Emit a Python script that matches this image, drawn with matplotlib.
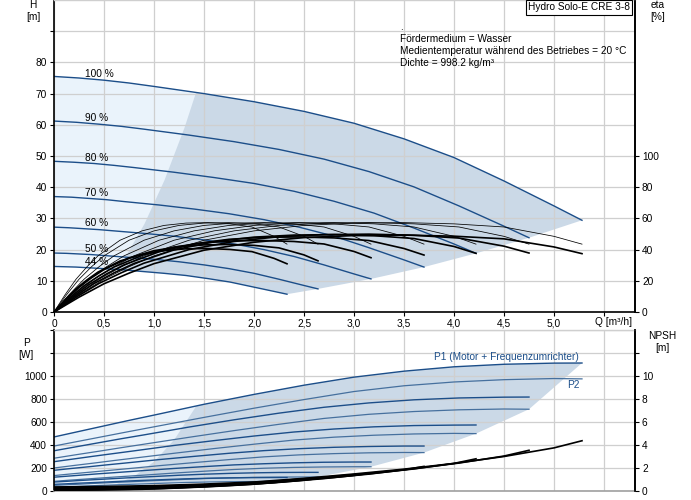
import numpy as np
import matplotlib
matplotlib.use('Agg')
import matplotlib.pyplot as plt
from matplotlib.patches import Polygon

plt.rcParams['font.family'] = ['Liberation Sans', 'DejaVu Sans']
FS = 7.3
plt.rcParams['font.size'] = FS

# ---------------- data ----------------
speed_labels = ["100 %", "90 %", "80 %", "70 %", "60 %", "50 %", "44 %"]

# flow points for each speed curve [m3/h]
q_pts = [
    [0, 0.25, 0.5, 0.75, 1.0, 1.5, 2.0, 2.5, 3.0, 3.5, 4.0, 4.5, 5.0, 5.28],
    [0, 0.225, 0.45, 0.675, 0.9, 1.35, 1.8, 2.25, 2.7, 3.15, 3.6, 4.05, 4.5, 4.75],
    [0, 0.2, 0.4, 0.6, 0.8, 1.2, 1.6, 2.0, 2.4, 2.8, 3.2, 3.6, 4.0, 4.22],
    [0, 0.175, 0.35, 0.525, 0.7, 1.05, 1.4, 1.75, 2.1, 2.45, 2.8, 3.15, 3.5, 3.70],
    [0, 0.15, 0.3, 0.45, 0.6, 0.9, 1.2, 1.5, 1.8, 2.1, 2.4, 2.7, 3.0, 3.17],
    [0, 0.125, 0.25, 0.375, 0.5, 0.75, 1.0, 1.25, 1.5, 1.75, 2.0, 2.25, 2.5, 2.64],
    [0, 0.11, 0.22, 0.33, 0.44, 0.66, 0.88, 1.1, 1.32, 1.54, 1.76, 1.98, 2.2, 2.33],
]

# head [m]
h_pts = [
    [75.5, 75.0, 74.3, 73.4, 72.3, 70.0, 67.4, 64.3, 60.5, 55.5, 49.5, 42.0, 34.0, 29.4],
    [61.2, 60.8, 60.2, 59.5, 58.6, 56.7, 54.6, 52.1, 49.0, 45.0, 40.1, 34.0, 27.5, 23.8],
    [48.3, 48.0, 47.6, 47.0, 46.3, 44.8, 43.1, 41.2, 38.7, 35.5, 31.7, 26.9, 21.8, 18.8],
    [37.0, 36.8, 36.4, 36.0, 35.4, 34.3, 33.0, 31.5, 29.6, 27.2, 24.3, 20.6, 16.7, 14.4],
    [27.2, 27.0, 26.7, 26.4, 26.0, 25.2, 24.3, 23.1, 21.8, 20.0, 17.8, 15.1, 12.2, 10.6],
    [18.9, 18.8, 18.6, 18.4, 18.1, 17.5, 16.9, 16.1, 15.1, 13.9, 12.4, 10.5, 8.5, 7.4],
    [14.6, 14.5, 14.4, 14.2, 14.0, 13.6, 13.0, 12.4, 11.7, 10.7, 9.6, 8.1, 6.6, 5.7],
]

# pump efficiency [%] (same along each speed curve)
eta_pump = [0, 11, 21, 29, 36, 46, 52, 55.5, 57, 57.3, 56.5, 54.5, 48.5, 43.5]

# total efficiency [%]
eta_total = [
    [0, 9.5, 18.1, 24.9, 31.0, 39.6, 44.7, 47.7, 49.0, 49.3, 48.6, 46.9, 41.7, 37.4],
    [0, 9.6, 18.3, 25.2, 31.3, 40.0, 45.2, 48.3, 49.6, 49.9, 49.2, 47.4, 42.2, 37.8],
    [0, 9.5, 18.2, 25.1, 31.1, 39.8, 45.0, 48.0, 49.3, 49.6, 48.9, 47.1, 42.0, 37.6],
    [0, 9.2, 17.6, 24.4, 30.2, 38.6, 43.7, 46.6, 47.9, 48.1, 47.5, 45.8, 40.7, 36.5],
    [0, 8.8, 16.8, 23.2, 28.8, 36.8, 41.6, 44.4, 45.6, 45.8, 45.2, 43.6, 38.8, 34.8],
    [0, 8.3, 15.9, 21.9, 27.2, 34.7, 39.3, 41.9, 43.0, 43.3, 42.7, 41.1, 36.6, 32.8],
    [0, 7.8, 14.9, 20.6, 25.6, 32.7, 36.9, 39.4, 40.5, 40.7, 40.1, 38.7, 34.4, 30.9],
]

# P1 (motor + frequency converter) [W]
p1_pts = [
    [470, 518, 566, 614, 660, 754, 840, 920, 990, 1042, 1080, 1102, 1112, 1113],
    [350, 385, 420, 455, 488, 556, 619, 677, 728, 766, 793, 809, 816, 817],
    [255, 279, 303, 326, 349, 396, 438, 478, 513, 539, 558, 569, 573, 574],
    [180, 196, 211, 227, 242, 273, 301, 328, 351, 368, 380, 387, 391, 391],
    [120, 130, 140, 150, 159, 178, 196, 212, 227, 237, 245, 250, 252, 252],
    [78, 84, 91, 97, 103, 115, 126, 137, 146, 153, 158, 161, 162, 162],
    [58, 62, 67, 71, 75, 84, 92, 99, 106, 111, 114, 116, 117, 117],
]

# P2 (shaft power) [W]
p2_pts = [
    [391, 433, 475, 517, 558, 640, 720, 795, 865, 915, 948, 968, 978, 975],
    [285, 316, 346, 377, 407, 467, 525, 580, 631, 667, 691, 706, 713, 711],
    [200, 222, 243, 265, 286, 328, 369, 407, 443, 468, 485, 496, 501, 499],
    [134, 149, 163, 177, 191, 220, 247, 273, 297, 314, 325, 332, 335, 334],
    [84, 94, 103, 112, 121, 138, 156, 172, 187, 198, 205, 209, 211, 211],
    [49, 54, 59, 65, 70, 80, 90, 99, 108, 114, 119, 121, 122, 122],
    [33, 37, 40, 44, 48, 55, 61, 68, 74, 78, 81, 82, 83, 83],
]

# NPSH [m]
npsh_pts = [
    [0.35, 0.37, 0.40, 0.43, 0.47, 0.60, 0.78, 1.10, 1.48, 1.90, 2.40, 3.00, 3.75, 4.37],
    [0.28, 0.30, 0.32, 0.35, 0.38, 0.49, 0.63, 0.89, 1.20, 1.54, 1.94, 2.43, 3.04, 3.54],
    [0.22, 0.24, 0.26, 0.28, 0.30, 0.38, 0.50, 0.70, 0.95, 1.22, 1.54, 1.92, 2.40, 2.80],
    [0.17, 0.18, 0.20, 0.21, 0.23, 0.29, 0.38, 0.54, 0.73, 0.93, 1.18, 1.47, 1.84, 2.14],
    [0.13, 0.13, 0.14, 0.15, 0.17, 0.22, 0.28, 0.40, 0.53, 0.68, 0.86, 1.08, 1.35, 1.57],
    [0.09, 0.09, 0.10, 0.11, 0.12, 0.15, 0.20, 0.28, 0.37, 0.48, 0.60, 0.75, 0.94, 1.09],
    [0.07, 0.07, 0.08, 0.08, 0.09, 0.12, 0.15, 0.21, 0.29, 0.37, 0.47, 0.58, 0.73, 0.85],
]

# boundary of the light (low flow) zone
minflow_q_h = [0, 0.5, 0.7, 0.9, 1.1, 1.3, 1.5, 1.7]
minflow_h = [0, 8.8, 17.2, 28.4, 42.4, 59.2, 78.8, 101]
minflow_q_p = [0, 0.6, 0.8, 1.0, 1.2, 1.4, 1.6, 1.76]
minflow_p = [0, 57, 134, 262, 453, 719, 1073, 1428]

x_ticks = [0, 0.5, 1.0, 1.5, 2.0, 2.5, 3.0, 3.5, 4.0, 4.5, 5.0, 5.5]
x_tick_labels = ["0", "0,5", "1,0", "1,5", "2,0", "2,5", "3,0", "3,5", "4,0", "4,5", "5,0", ""]

info_lines = ["Fördermedium = Wasser",
              "Medientemperatur während des Betriebes = 20 °C",
              "Dichte = 998.2 kg/m³"]

# ---------------- style ----------------
DARK = '#cbd9e7'
LIGHT = '#eaf3fb'
BLUE = '#1c4e89'
BLUE2 = '#46709e'
GRID = '#cfcfcf'

fig = plt.figure(figsize=(6.91, 5.0), dpi=100)
W, H = 691, 500

def frac_axes(x0, y0, x1, y1):
    return fig.add_axes([x0 / W, 1 - y1 / H, (x1 - x0) / W, (y1 - y0) / H])

def style_axes(ax):
    for s in ['left', 'right', 'bottom']:
        ax.spines[s].set_color('black')
        ax.spines[s].set_linewidth(1.2)
    ax.spines['top'].set_color(GRID)
    ax.spines['top'].set_linewidth(1.0)
    ax.tick_params(direction='out', length=3, width=0.8, pad=2, labelsize=FS)
    ax.grid(True, color=GRID, linewidth=0.9)

# ================= top panel =================
ax = frac_axes(54, 0, 635, 312)
style_axes(ax)
ax.set_xlim(0, 5.81)
ax.set_ylim(0, 100)
ax.set_xticks(x_ticks)
ax.set_xticklabels(x_tick_labels)
ax.set_yticks(range(0, 100, 10))
ax.set_yticklabels([str(v) if v <= 80 else "" for v in range(0, 100, 10)])

# shaded operating range
top_q = list(q_pts[0]) + [q[-1] for q in q_pts[1:]] + list(q_pts[-1][::-1])
top_h = list(h_pts[0]) + [h[-1] for h in h_pts[1:]] + list(h_pts[-1][::-1])
region = Polygon(np.column_stack([top_q, top_h]), closed=True,
                 facecolor=DARK, edgecolor='none', zorder=0.2)
ax.add_patch(region)
lf = ax.fill_between(minflow_q_h, minflow_h, 100, color=LIGHT, linewidth=0, zorder=0.3)
lf.set_clip_path(region)

for i, lab in enumerate(speed_labels):
    ax.plot(q_pts[i], h_pts[i], color=BLUE, lw=1.0, zorder=2)
    ytxt = np.interp(0.45, q_pts[i], h_pts[i]) + 2.0
    ax.text(0.31, ytxt, lab, fontsize=FS, ha='left', va='center', zorder=4)

ax.text(5.78, -3.2, "Q [m³/h]", fontsize=FS, ha='right', va='center', clip_on=False)

axe = ax.twinx()
axe.set_ylim(0, 200)
axe.set_yticks(range(0, 101, 20))
for s in ['left', 'right', 'bottom', 'top']:
    axe.spines[s].set_visible(False)
axe.spines['right'].set_visible(True)
axe.spines['right'].set_color('black')
axe.spines['right'].set_linewidth(1.2)
axe.tick_params(direction='out', length=3, width=0.8, pad=2, labelsize=FS)
for i in range(len(speed_labels)):
    axe.plot(q_pts[i], eta_pump, color='black', lw=0.55, zorder=3)
for i in range(len(speed_labels)):
    axe.plot(q_pts[i], eta_total[i], color='black', lw=1.2, zorder=3)

# info texts
fig.text(400 / W, 1 - 27 / H, ".", fontsize=FS, ha='left', va='center')
for k, line in enumerate(info_lines):
    fig.text(400 / W, 1 - (38.5 + 12.4 * k) / H, line, fontsize=FS, ha='left', va='center')
fig.text(579 / W, 1 - 7.5 / H, "Hydro Solo-E CRE 3-8", fontsize=FS, ha='center', va='center',
         bbox=dict(boxstyle='square,pad=0.22', facecolor='white', edgecolor='black', linewidth=0.8))

fig.text(33 / W, 1 - 5 / H, "H", fontsize=FS, ha='center', va='center')
fig.text(33 / W, 1 - 17 / H, "[m]", fontsize=FS, ha='center', va='center')
fig.text(658 / W, 1 - 5 / H, "eta", fontsize=FS, ha='center', va='center')
fig.text(658 / W, 1 - 17 / H, "[%]", fontsize=FS, ha='center', va='center')

# ================= bottom panel =================
bx = frac_axes(54, 330, 635, 491)
style_axes(bx)
bx.set_xlim(0, 5.81)
bx.set_ylim(0, 1400)
bx.set_xticks(x_ticks)
bx.set_xticklabels([])
bx.tick_params(axis='x', length=0)
bx.set_yticks(range(0, 1401, 200))
bx.set_yticklabels([str(v) if v <= 1000 else "" for v in range(0, 1401, 200)])
bx.spines['bottom'].set_color('#a0a0a0')

bot_q = list(q_pts[0]) + [q[-1] for q in q_pts[1:]] + list(q_pts[-1][::-1])
bot_p = list(p1_pts[0]) + [p[-1] for p in p2_pts[1:]] + list(p2_pts[-1][::-1])
region2 = Polygon(np.column_stack([bot_q, bot_p]), closed=True,
                  facecolor=DARK, edgecolor='none', zorder=0.2)
bx.add_patch(region2)
lf2 = bx.fill_between(minflow_q_p, minflow_p, 1400, color=LIGHT, linewidth=0, zorder=0.3)
lf2.set_clip_path(region2)

for i in range(len(speed_labels)):
    bx.plot(q_pts[i], p2_pts[i], color=BLUE2, lw=0.9, zorder=2)
    bx.plot(q_pts[i], p1_pts[i], color=BLUE, lw=1.0, zorder=2)

bx.text(5.25, 1165, "P1 (Motor + Frequenzumrichter)", color=BLUE, fontsize=FS,
        ha='right', va='center', zorder=4)
bx.text(5.26, 922, "P2", color=BLUE, fontsize=FS, ha='right', va='center', zorder=4)

bxn = bx.twinx()
bxn.set_ylim(0, 14)
bxn.set_yticks(range(0, 13, 2))
bxn.set_yticklabels([str(v) if v <= 10 else "" for v in range(0, 13, 2)])
for s in ['left', 'bottom', 'top']:
    bxn.spines[s].set_visible(False)
bxn.spines['right'].set_color('black')
bxn.spines['right'].set_linewidth(1.2)
bxn.tick_params(direction='out', length=3, width=0.8, pad=2, labelsize=FS)
for i in range(len(speed_labels)):
    bxn.plot(q_pts[i], npsh_pts[i], color='black', lw=1.2, zorder=3)

fig.text(26 / W, 1 - 343 / H, "P", fontsize=FS, ha='center', va='center')
fig.text(26 / W, 1 - 355 / H, "[W]", fontsize=FS, ha='center', va='center')
fig.text(662 / W, 1 - 336 / H, "NPSH", fontsize=FS, ha='center', va='center')
fig.text(662 / W, 1 - 348 / H, "[m]", fontsize=FS, ha='center', va='center')

fig.savefig("out.png", dpi=100)
